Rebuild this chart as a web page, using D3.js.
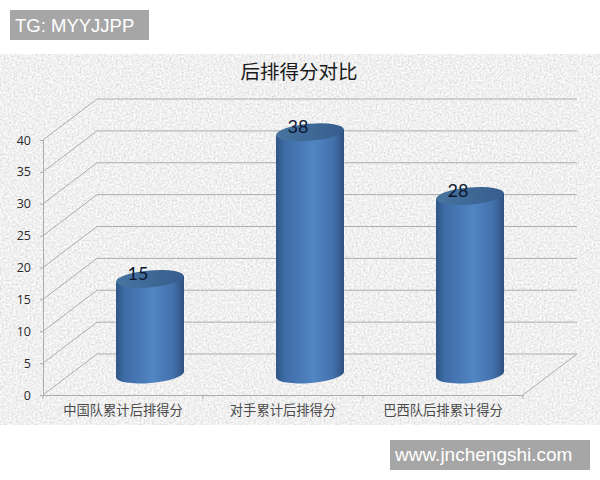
<!DOCTYPE html>
<html>
<head>
<meta charset="utf-8">
<script src="https://cdn.jsdelivr.net/npm/d3@7"></script>
<style>
  body { margin: 0; background: white; }
  svg { display: block; }
</style>
</head>
<body>
<script>
// chart data
let categories = ["中国队累计后排得分", "对手累计后排得分", "巴西队后排累计得分"];
let values = [15, 38, 28];
let yTicks = [0, 5, 10, 15, 20, 25, 30, 35, 40];

let svg = d3.select("body").append("svg").attr("width", 600).attr("height", 480);
let defs = svg.append("defs");

// Speckled grey paper behind the chart
let paper = defs.append("filter").attr("id", "paper")
  .attr("x", 0).attr("y", 0).attr("width", "100%").attr("height", "100%");
paper.append("feTurbulence")
  .attr("type", "fractalNoise").attr("baseFrequency", 0.5)
  .attr("numOctaves", 3).attr("seed", 4);
paper.append("feColorMatrix").attr("type", "matrix")
  .attr("values", "0.5 0 0 0 0.62  0.5 0 0 0 0.62  0.5 0 0 0 0.62  0 0 0 0 1");
paper.append("feGaussianBlur").attr("stdDeviation", 0.45);

svg.append("rect").attr("x", 0).attr("y", 54).attr("width", 600).attr("height", 371)
  .attr("filter", "url(#paper)");

// Scales: front plane of the 3D box, the back wall is shifted by depth
let depthX = 54, depthY = -41;
let x = d3.scaleBand().domain(categories).range([43, 523]);
let y = d3.scaleLinear().domain([0, 40]).range([395, 140]);

// Walls: grid lines on the side and the back
let lineColor = "#adadab";
let grid = svg.append("g");
grid.selectAll(".side").data(yTicks).join("line").attr("class", "side")
  .attr("x1", 43).attr("y1", d => y(d))
  .attr("x2", 43 + depthX).attr("y2", d => y(d) + depthY)
  .style("stroke", lineColor).style("stroke-width", 1);
grid.selectAll(".back").data(yTicks).join("line").attr("class", "back")
  .attr("x1", 43 + depthX).attr("y1", d => y(d) + depthY)
  .attr("x2", 523 + depthX).attr("y2", d => y(d) + depthY)
  .style("stroke", lineColor).style("stroke-width", 1);
// Right edge of the floor
grid.append("line")
  .attr("x1", 523).attr("y1", y(0))
  .attr("x2", 523 + depthX).attr("y2", y(0) + depthY)
  .style("stroke", lineColor).style("stroke-width", 1);

// Axes
let yAxis = svg.append("g").attr("transform", "translate(43,0)")
  .call(d3.axisLeft(y).tickValues(yTicks).tickSize(3).tickPadding(9));
let xAxis = svg.append("g").attr("transform", "translate(0,395)")
  .call(d3.axisBottom(x).tickSize(0).tickPadding(11));
// Ticks sit between the categories, not on them
xAxis.selectAll(".edge").data(d3.range(categories.length + 1)).join("line").attr("class", "edge")
  .attr("x1", i => x.range()[0] + i * x.step()).attr("x2", i => x.range()[0] + i * x.step())
  .attr("y1", 0).attr("y2", 4);

svg.selectAll(".domain, .tick line, .edge").style("stroke", lineColor);
yAxis.selectAll("text")
  .style("font-family", "'Open Sans'").style("font-size", "12.5px").style("fill", "#2a2a2a");
xAxis.selectAll("text")
  .style("font-family", "'Noto Sans CJK SC'").style("font-size", "13.3px").style("fill", "#4a4a4a");

// Cylinder shading
let sideGrad = defs.append("linearGradient").attr("id", "side");
sideGrad.append("stop").attr("offset", "0%").attr("stop-color", "#2f5585");
sideGrad.append("stop").attr("offset", "12%").attr("stop-color", "#3d6ba6");
sideGrad.append("stop").attr("offset", "55%").attr("stop-color", "#5285c4");
sideGrad.append("stop").attr("offset", "85%").attr("stop-color", "#4270aa");
sideGrad.append("stop").attr("offset", "100%").attr("stop-color", "#2e507e");
let capGrad = defs.append("linearGradient").attr("id", "cap");
capGrad.append("stop").attr("offset", "0%").attr("stop-color", "#46749f");
capGrad.append("stop").attr("offset", "100%").attr("stop-color", "#375d8e");

// Cylinders stand in the middle of the floor depth
let rx = 34, ry = 8.5, tilt = -5;
let tiltY = rx * Math.sin(tilt * Math.PI / 180);
let cx = d => x(d) + x.bandwidth() / 2 + depthX / 2;
let cy = v => y(v) + depthY / 2;

let bars = svg.selectAll(".bar").data(categories).join("g").attr("class", "bar");
bars.append("path")
  .attr("d", (d, i) => {
    let topY = cy(values[i]), bottomY = cy(0);
    return `M${cx(d) - rx},${topY - tiltY}L${cx(d) - rx},${bottomY - tiltY}` +
      `A${rx},${ry} ${tilt} 0 0 ${cx(d) + rx},${bottomY + tiltY}` +
      `L${cx(d) + rx},${topY + tiltY}Z`;
  })
  .style("fill", "url(#side)");
bars.append("ellipse")
  .attr("rx", rx).attr("ry", ry)
  .attr("transform", (d, i) => `translate(${cx(d)},${cy(values[i])}) rotate(${tilt})`)
  .style("fill", "url(#cap)");
bars.append("text")
  .attr("x", d => cx(d) - 12)
  .attr("y", (d, i) => cy(values[i]) + 1)
  .attr("text-anchor", "middle")
  .style("font-family", "Lato").style("font-size", "18px").style("fill", "#0b1730")
  .text((d, i) => values[i]);

// Title
svg.append("text").attr("x", 299).attr("y", 79).attr("text-anchor", "middle")
  .style("font-family", "'Noto Sans CJK SC'").style("font-size", "19.5px").style("fill", "#1a1a1a")
  .text("后排得分对比");

// Watermarks
svg.append("rect").attr("x", 10).attr("y", 10).attr("width", 139).attr("height", 30).style("fill", "#a6a6a6");
svg.append("text").attr("x", 15).attr("y", 32)
  .style("font-family", "'Liberation Sans'").style("font-size", "18.5px").style("fill", "white")
  .text("TG: MYYJJPP");
svg.append("rect").attr("x", 390).attr("y", 440).attr("width", 200).attr("height", 30).style("fill", "#a6a6a6");
svg.append("text").attr("x", 395).attr("y", 461)
  .style("font-family", "'Liberation Sans'").style("font-size", "19px").style("fill", "white")
  .text("www.jnchengshi.com");
</script>
</body>
</html>
